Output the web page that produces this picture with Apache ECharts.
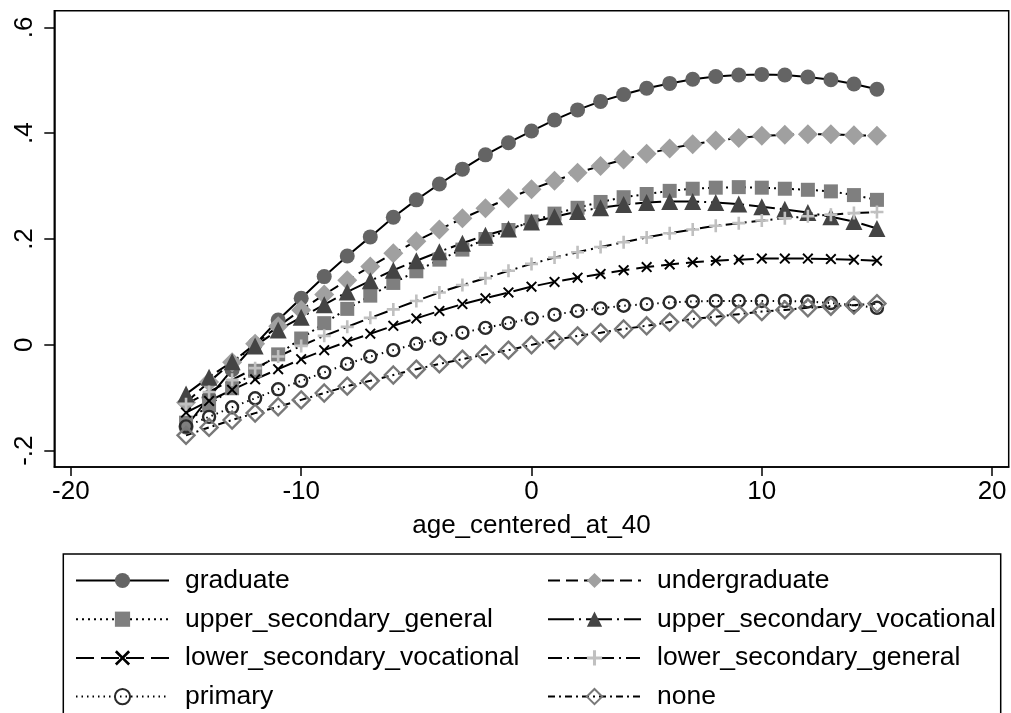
<!DOCTYPE html>
<html>
<head>
<meta charset="utf-8">
<script src="https://cdn.jsdelivr.net/npm/echarts@6/dist/echarts.min.js"></script>
<style>
html,body{margin:0;padding:0;background:#fff;}
#chart{width:1011px;height:713px;}
</style>
</head>
<body>
<div id="chart"></div>
<script>
// ---- data ----
const ages = [-15,-14,-13,-12,-11,-10,-9,-8,-7,-6,-5,-4,-3,-2,-1,0,1,2,3,4,5,6,7,8,9,10,11,12,13,14,15];

const graduate = [-0.155,-0.099,-0.047,0.001,0.047,0.088,0.129,0.168,0.204,0.241,0.274,0.304,0.332,0.359,0.382,0.404,0.425,0.444,0.460,0.473,0.485,0.494,0.502,0.507,0.510,0.511,0.510,0.506,0.501,0.493,0.483];
const undergraduate = [-0.109,-0.070,-0.033,0.002,0.035,0.066,0.095,0.122,0.148,0.173,0.196,0.218,0.239,0.258,0.277,0.294,0.310,0.325,0.338,0.350,0.361,0.371,0.379,0.386,0.391,0.395,0.397,0.398,0.398,0.396,0.395];
const upper_secondary_general = [-0.147,-0.114,-0.082,-0.049,-0.018,0.012,0.041,0.068,0.093,0.117,0.139,0.161,0.180,0.200,0.217,0.233,0.248,0.259,0.270,0.279,0.285,0.291,0.295,0.297,0.298,0.297,0.295,0.293,0.290,0.283,0.274];
const upper_secondary_vocational = [-0.093,-0.061,-0.032,-0.002,0.028,0.052,0.076,0.100,0.121,0.141,0.159,0.176,0.192,0.207,0.219,0.232,0.242,0.252,0.259,0.265,0.269,0.271,0.271,0.269,0.266,0.261,0.256,0.250,0.242,0.233,0.220];
const lower_secondary_vocational = [-0.128,-0.106,-0.085,-0.065,-0.046,-0.027,-0.010,0.006,0.021,0.036,0.050,0.064,0.077,0.088,0.099,0.110,0.119,0.127,0.134,0.141,0.147,0.152,0.156,0.159,0.161,0.163,0.163,0.163,0.162,0.161,0.159];
const lower_secondary_general = [-0.112,-0.089,-0.066,-0.044,-0.022,-0.002,0.017,0.034,0.051,0.067,0.083,0.099,0.113,0.126,0.140,0.153,0.165,0.175,0.185,0.194,0.203,0.211,0.218,0.225,0.230,0.235,0.239,0.243,0.246,0.249,0.251];
const primary = [-0.154,-0.136,-0.118,-0.101,-0.084,-0.068,-0.052,-0.036,-0.022,-0.010,0.002,0.012,0.023,0.032,0.041,0.050,0.057,0.064,0.069,0.074,0.077,0.080,0.082,0.083,0.083,0.083,0.083,0.082,0.079,0.075,0.070];
const none = [-0.171,-0.156,-0.142,-0.129,-0.117,-0.104,-0.091,-0.078,-0.068,-0.057,-0.046,-0.036,-0.027,-0.018,-0.010,0.000,0.009,0.017,0.023,0.030,0.036,0.043,0.049,0.053,0.058,0.063,0.066,0.070,0.073,0.075,0.078];

const xTickValues = [-20,-10,0,10,20];
const xTickLabels = ['-20','-10','0','10','20'];
const yTickValues = [-0.2,0,0.2,0.4,0.6];
const yTickLabels = ['-.2','0','.2','.4','.6'];
const xTitle = 'age_centered_at_40';

const leftLegend = ['graduate','upper_secondary_general','lower_secondary_vocational','primary'];
const rightLegend = ['undergraduate','upper_secondary_vocational','lower_secondary_general','none'];

// ---- styles ----
const FONT = 'Liberation Sans, Arial, sans-serif';
const CROSS = 'path://M0,2.5 L2.5,0 L10,7.5 L17.5,0 L20,2.5 L12.5,10 L20,17.5 L17.5,20 L10,12.5 L2.5,20 L0,17.5 L7.5,10 Z';
const PLUS = 'path://M8,0 H12 V8 H20 V12 H12 V20 H8 V12 H0 V8 H8 Z';

function pairs(ys){ return ages.map((a,i)=>[a, ys[i]]); }

const seriesDefs = [
  {name:'graduate', data:graduate, dash:'solid', symbol:'circle', size:15, item:{color:'#646464'}},
  {name:'undergraduate', data:undergraduate, dash:[12,6], symbol:'diamond', size:20, item:{color:'#a0a0a0'}},
  {name:'upper_secondary_general', data:upper_secondary_general, dash:[2,4], symbol:'rect', size:14, item:{color:'#7f7f7f'}},
  {name:'upper_secondary_vocational', data:upper_secondary_vocational, dash:[26,5,2,5], symbol:'triangle', size:17, item:{color:'#444444'}},
  {name:'lower_secondary_vocational', data:lower_secondary_vocational, dash:[18,7], symbol:CROSS, size:11, item:{color:'#000000'}},
  {name:'lower_secondary_general', data:lower_secondary_general, dash:[14,5,2,5], symbol:PLUS, size:13, item:{color:'#c0c0c0'}},
  {name:'primary', data:primary, dash:[1.5,4], symbol:'circle', size:12, item:{color:'rgba(255,255,255,0)', borderColor:'#2a2a2a', borderWidth:2.4}},
  {name:'none', data:none, dash:[7,4,2,4], symbol:'diamond', size:17, item:{color:'rgba(255,255,255,0)', borderColor:'#787878', borderWidth:2.4}}
];

const series = seriesDefs.map(d => ({
  type:'line',
  name:d.name,
  data:pairs(d.data),
  symbol:d.symbol,
  symbolSize:d.size,
  showSymbol:true,
  showAllSymbol:true,
  lineStyle:{color:'#000', width:2, type:d.dash},
  itemStyle:Object.assign({borderWidth:0}, d.item),
  emphasis:{disabled:true},
  animation:false
}));

function lab(values, labels){ return v => { const i = values.findIndex(t => Math.abs(t - v) < 1e-9); return i >= 0 ? labels[i] : ''; }; }

const legendCommon = {
  orient:'vertical', top:567, itemWidth:93, itemHeight:19, itemGap:11.7, padding:0,
  selectedMode:false,
  textStyle:{fontSize:26.5, color:'#000', fontFamily:FONT, padding:[0,0,0,11]}
};

const option = {
  animation:false,
  backgroundColor:'#fff',
  grid:{left:54.3, top:10.7, right:2.3, bottom:246, show:true, borderColor:'#000', borderWidth:1.5, backgroundColor:'rgba(0,0,0,0)', containLabel:false},
  xAxis:{
    type:'value', min:-20.72, max:20.72,
    axisLine:{show:true, onZero:false, lineStyle:{color:'#000', width:1.5}},
    axisTick:{show:true, length:9, customValues:xTickValues, lineStyle:{color:'#000', width:1.5}},
    axisLabel:{customValues:xTickValues, margin:12, color:'#000', fontSize:26, fontFamily:FONT, formatter:lab(xTickValues, xTickLabels)},
    splitLine:{show:false},
    name:xTitle, nameLocation:'middle', nameGap:46,
    nameTextStyle:{fontSize:26, color:'#000', fontFamily:FONT}
  },
  yAxis:{
    type:'value', min:-0.2308, max:0.6314,
    axisLine:{show:true, onZero:false, lineStyle:{color:'#000', width:1.5}},
    axisTick:{show:true, length:10, customValues:yTickValues, lineStyle:{color:'#000', width:1.5}},
    axisLabel:{customValues:yTickValues, rotate:90, margin:16, color:'#000', fontSize:26, fontFamily:FONT, formatter:lab(yTickValues, yTickLabels)},
    splitLine:{show:false}
  },
  legend:[
    Object.assign({left:75, data:leftLegend}, legendCommon),
    Object.assign({left:547, data:rightLegend}, legendCommon)
  ],
  graphic:[{type:'rect', shape:{x:63.3, y:554, width:937.4, height:200}, style:{fill:'none', stroke:'#000', lineWidth:1.5}, silent:true, z:-1}],
  series:series
};

const chart = echarts.init(document.getElementById('chart'), null, {renderer:'canvas'});
chart.setOption(option);
</script>
</body>
</html>
